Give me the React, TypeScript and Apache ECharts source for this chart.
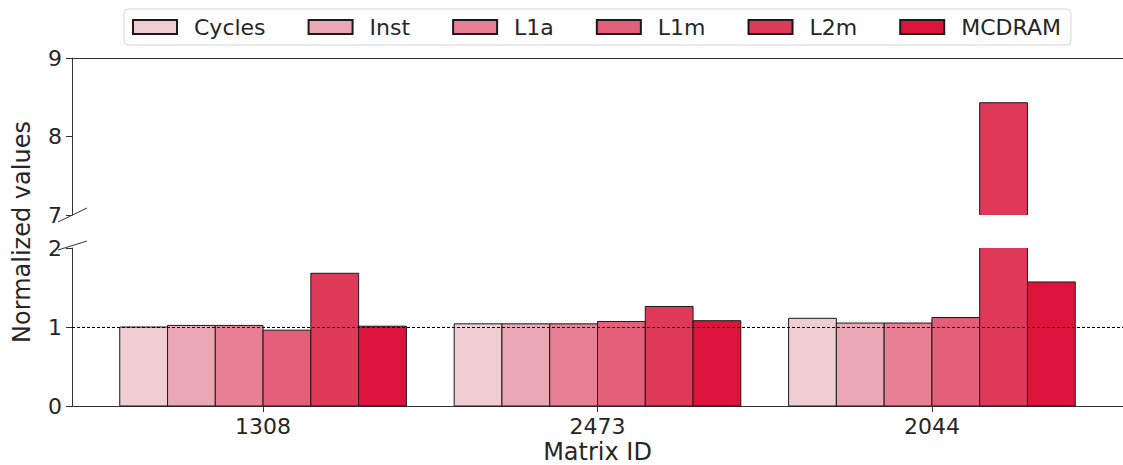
import React, { useEffect, useRef } from "react";
import * as echarts from "echarts";

const categories = ["1308", "2473", "2044"];
const seriesNames = ["Cycles", "Inst", "L1a", "L1m", "L2m", "MCDRAM"];
const cycles = [1.0, 1.04, 1.11];
const inst = [1.02, 1.04, 1.05];
const l1a = [1.02, 1.04, 1.05];
const l1m = [0.96, 1.07, 1.12];
const l2m = [1.68, 1.26, 8.43];
const mcdram = [1.01, 1.08, 1.57];
const colors = ["#eecdd3", "#eaa8b4", "#e88095", "#e35e78", "#df395a", "#dc143c"];
const yTopRange = [7, 9];
const yBottomRange = [0, 2];
const xMin = -0.5714;
const xMax = 2.5714;

const allValues = [cycles, inst, l1a, l1m, l2m, mcdram];
const TEXT = "#262626";
const AX = "#333333";
const FONT = "DejaVu Sans";

function makeRender(idx: number, range: number[]) {
  return (params: any, api: any) => {
    const cat = api.value(0);
    const val = api.value(1);
    const w = 1 / 7;
    const xc = cat + (idx - 2.5) * w;
    const lo = range[0];
    const hi = Math.min(val, range[1]);
    if (hi <= lo) return null;
    const p1 = api.coord([xc - w / 2, hi]);
    const p2 = api.coord([xc + w / 2, lo]);
    const x1 = p1[0], y1 = p1[1], x2 = p2[0], y2 = p2[1];
    const topClipped = val > range[1];
    const bottomClipped = lo > 0;
    const stroke = { stroke: "#1a1a1a", lineWidth: 1, fill: null };
    const children: any[] = [
      { type: "rect", shape: { x: x1, y: y1, width: x2 - x1, height: y2 - y1 }, style: { fill: colors[idx] } },
    ];
    if (topClipped) {
      children.push({ type: "line", shape: { x1: x1, y1: y1, x2: x1, y2: y2 }, style: stroke });
      children.push({ type: "line", shape: { x1: x2, y1: y1, x2: x2, y2: y2 }, style: stroke });
      if (!bottomClipped) children.push({ type: "line", shape: { x1: x1, y1: y2, x2: x2, y2: y2 }, style: stroke });
    } else if (bottomClipped) {
      children.push({ type: "polyline", shape: { points: [[x1, y2], [x1, y1], [x2, y1], [x2, y2]] }, style: stroke });
    } else {
      children.push({ type: "rect", shape: { x: x1, y: y1, width: x2 - x1, height: y2 - y1 }, style: stroke });
    }
    return { type: "group", children };
  };
}

export default function App() {
  const ref = useRef<HTMLDivElement>(null);
  useEffect(() => {
    if (!ref.current) return;
    const chart = echarts.init(ref.current, undefined, { renderer: "svg" });
    const series: any[] = [];
    seriesNames.forEach((name, i) => {
      const data = allValues[i].map((v, c) => [c, v]);
      series.push({
        type: "custom",
        name,
        xAxisIndex: 0,
        yAxisIndex: 0,
        data,
        itemStyle: { color: colors[i], borderColor: "#1a1a1a", borderWidth: 1 },
        renderItem: makeRender(i, yTopRange),
        z: 3,
      });
      const s: any = {
        type: "custom",
        name,
        xAxisIndex: 1,
        yAxisIndex: 1,
        data,
        itemStyle: { color: colors[i], borderColor: "#1a1a1a", borderWidth: 1 },
        renderItem: makeRender(i, yBottomRange),
        z: 3,
      };
      if (i === 5) {
        s.markLine = {
          silent: true,
          symbol: "none",
          label: { show: false },
          lineStyle: { color: "#000", width: 1, type: [3, 2] },
          data: [{ yAxis: 1 }],
          z: 5,
        };
      }
      series.push(s);
    });

    const yLabel = { fontSize: 22, color: TEXT, fontFamily: FONT, margin: 10 };

    chart.setOption({
      animation: false,
      textStyle: { fontFamily: FONT, color: TEXT },
      legend: {
        data: seriesNames,
        left: 124,
        top: 9,
        padding: [7, 10, 7, 8],
        itemWidth: 44,
        itemHeight: 14,
        itemGap: 42,
        icon: "rect",
        borderColor: "#d6d6d6",
        borderWidth: 1,
        borderRadius: 4,
        textStyle: { fontSize: 22, color: TEXT, fontFamily: FONT, padding: [0, 0, 0, 12] },
      },
      grid: [
        { left: 72, right: 0, top: 58, height: 157, outerBoundsMode: "none", containLabel: false },
        { left: 72, right: 0, top: 248, height: 158, outerBoundsMode: "none", containLabel: false },
      ],
      xAxis: [
        {
          type: "value",
          gridIndex: 0,
          min: xMin,
          max: xMax,
          position: "top",
          axisLine: { show: true, onZero: false, lineStyle: { color: AX, width: 1 } },
          axisTick: { show: false },
          axisLabel: { show: false },
          splitLine: { show: false },
        },
        {
          type: "value",
          gridIndex: 1,
          min: xMin,
          max: xMax,
          position: "bottom",
          name: "Matrix ID",
          nameLocation: "middle",
          nameGap: 34,
          nameTextStyle: { fontSize: 24, color: TEXT, fontFamily: FONT, lineHeight: 24 },
          axisLine: { show: true, onZero: false, lineStyle: { color: AX, width: 1 } },
          axisTick: { show: true, customValues: [0, 1, 2], length: 6, lineStyle: { color: AX } },
          axisLabel: {
            customValues: [0, 1, 2],
            formatter: (v: number) => categories[Math.round(v)] ?? "",
            fontSize: 22,
            color: TEXT,
            fontFamily: FONT,
            margin: 9,
          },
          splitLine: { show: false },
        },
      ],
      yAxis: [
        {
          type: "value",
          gridIndex: 0,
          min: yTopRange[0],
          max: yTopRange[1],
          interval: 1,
          axisLine: { show: true, onZero: false, lineStyle: { color: AX, width: 1 } },
          axisTick: { show: true, length: 6, lineStyle: { color: AX } },
          axisLabel: yLabel,
          splitLine: { show: false },
        },
        {
          type: "value",
          gridIndex: 1,
          min: yBottomRange[0],
          max: yBottomRange[1],
          interval: 1,
          axisLine: { show: true, onZero: false, lineStyle: { color: AX, width: 1 } },
          axisTick: { show: true, length: 6, lineStyle: { color: AX } },
          axisLabel: yLabel,
          splitLine: { show: false },
        },
      ],
      graphic: [
        {
          type: "text",
          x: 22,
          y: 232,
          rotation: Math.PI / 2,
          style: {
            text: "Normalized values",
            fontSize: 24,
            fontFamily: FONT,
            fill: TEXT,
            align: "center",
            verticalAlign: "middle",
          },
        },
        { type: "line", shape: { x1: 58, y1: 222, x2: 87, y2: 208 }, style: { stroke: AX, lineWidth: 1 } },
        { type: "line", shape: { x1: 58, y1: 250, x2: 87, y2: 241 }, style: { stroke: AX, lineWidth: 1 } },
      ],
      series,
    });
    return () => chart.dispose();
  }, []);
  return (
    <div
      ref={ref}
      style={{ position: "absolute", left: 0, top: 0, width: 1123, height: 465, background: "#fff" }}
    />
  );
}
